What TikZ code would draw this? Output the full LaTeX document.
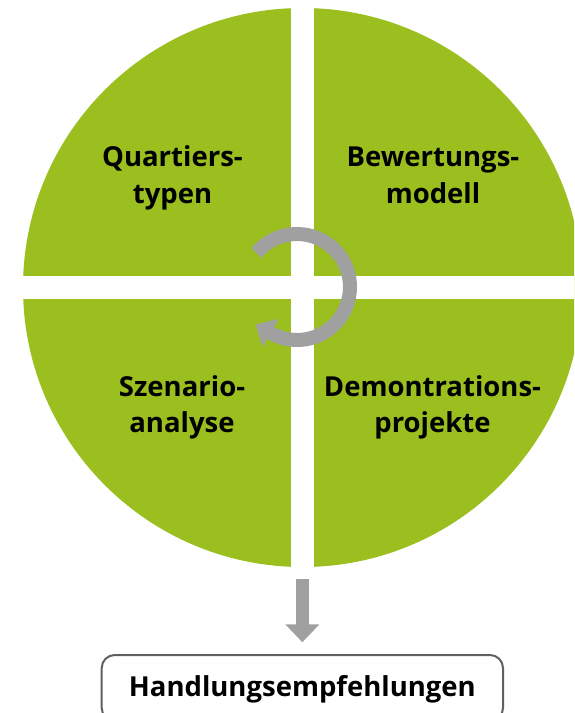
\documentclass[tikz,border=0pt]{standalone}
\usepackage{fontspec}
\setmainfont{Open Sans}
\usetikzlibrary{arrows.meta}
\definecolor{leaf}{RGB}{154,191,31}
\definecolor{cyclegray}{RGB}{160,160,160}
\definecolor{framegray}{RGB}{96,96,96}
\tikzset{
  label/.style={font=\fontsize{27.5}{36.5}\selectfont\bfseries, align=center, anchor=base, inner sep=0pt, text=black},
  gap/.style={fill=white},
  cycle/.style={draw=cyclegray, line width=14pt},
  cyclehead/.style={fill=cyclegray},
  outarrow/.style={draw=cyclegray, line width=13.3pt, -{Triangle[width=33pt,length=18pt]}, shorten >=11.7pt},
  result/.style={draw=framegray, line width=2pt, rounded corners=13pt, minimum width=401.3pt, minimum height=66pt, inner sep=0pt}
}
\begin{document}
\begin{tikzpicture}[x=1pt,y=1pt]
\useasboundingbox (0,0) rectangle (574,-713);
\clip (0,0) rectangle (574,-713);
% green disc cut into four quadrants by a white cross
\coordinate (c) at (302.5,-287.5);
\fill[leaf] (c) circle[radius=279.5];
\fill[gap] (291,5) rectangle (314,-570);
\fill[gap] (15,-276) rectangle (590,-299);
% quadrant labels (positioned at the baseline of their last line)
\node[label] (qt) at (172.5,-203) {Quartiers-\\typen};
\node[label] (bm) at (433,-203) {Bewertungs-\\modell};
\node[label] (sa) at (182,-432.5) {Szenario-\\analyse};
\node[label] (dp) at (432.5,-432.5) {Demontrations-\\projekte};
% circular arrow in the middle
\coordinate (cc) at (297,-287);
\draw[cycle] ([shift={(140:53)}]cc) arc[start angle=140, end angle=-120, radius=53];
\fill[cyclehead] (262.5,-346.8) -- (278.5,-319.0) -- (255.8,-324.4) -- cycle;
% result box and the arrow leading to it
\node[result] (rec) at (302.35,-688) {};
\node[label] (rectext) at (302.35,-696.7) {Handlungsempfehlungen};
\coordinate (out) at (302.35,-579);
\draw[outarrow] (out) -- (rec.north);
\end{tikzpicture}
\end{document}
